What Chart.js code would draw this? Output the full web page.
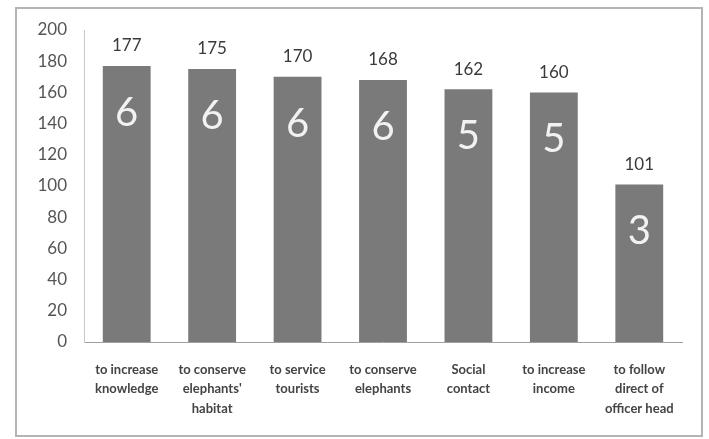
<!DOCTYPE html>
<html>
<head>
<meta charset="utf-8">
<script src="https://cdn.jsdelivr.net/npm/chart.js@4/dist/chart.umd.min.js"></script>
<style>
    html, body { margin: 0; padding: 0; background: #fff; }
    #wrap { position: relative; width: 709px; height: 439px; }
</style>
</head>
<body>
<div id="wrap"><canvas id="reasonChart" width="709" height="439"></canvas></div>
<script>
// Категории (подписи оси X, по строкам)
const categories = [
    ['to increase', 'knowledge'],
    ['to conserve', "elephants'", 'habitat'],
    ['to service', 'tourists'],
    ['to conserve', 'elephants'],
    ['Social', 'contact'],
    ['to increase', 'income'],
    ['to follow', 'direct of', 'officer head']
];

// Сумма баллов
const scores = [177, 175, 170, 168, 162, 160, 101];

// Ранг внутри столбца
const ranks = [6, 6, 6, 6, 5, 5, 3];

// Деления оси Y
const yTicks = [0, 20, 40, 60, 80, 100, 120, 140, 160, 180, 200];

// Рамка вокруг диаграммы
const framePlugin = {
    id: 'frame',
    beforeDraw(chart) {
        const ctx = chart.ctx;
        ctx.save();
        ctx.strokeStyle = '#b4b4b4';
        ctx.lineWidth = 2;
        ctx.strokeRect(16, 8, 686, 428);
        ctx.restore();
    }
};

// Подписи над столбцами и внутри них
const barLabels = {
    id: 'barLabels',
    afterDatasetsDraw(chart) {
        const ctx = chart.ctx;
        const meta = chart.getDatasetMeta(0);
        ctx.save();
        ctx.textAlign = 'center';
        ctx.textBaseline = 'middle';
        meta.data.forEach((bar, i) => {
            ctx.fillStyle = '#3a3a3a';
            ctx.font = '17px Lato';
            ctx.fillText(String(scores[i]), bar.x, bar.y - 20);
            ctx.fillStyle = '#f2f2f2';
            ctx.font = '40px Lato';
            ctx.fillText(String(ranks[i]), bar.x, bar.y + 47);
        });
        ctx.restore();
    }
};

new Chart(document.getElementById('reasonChart'), {
    type: 'bar',
    data: {
        labels: categories,
        datasets: [{
            data: scores,
            backgroundColor: '#7a7a7a',
            borderWidth: 0,
            barPercentage: 0.56,
            categoryPercentage: 1
        }]
    },
    options: {
        responsive: false,
        animation: false,
        layout: {
            padding: { top: 30, right: 27, bottom: 0, left: 0 }
        },
        plugins: {
            legend: { display: false },
            tooltip: { enabled: false }
        },
        scales: {
            x: {
                afterFit(scale) { scale.height = 97; },
                grid: { display: false, drawTicks: false },
                border: { display: true, color: '#a0a0a0', width: 1 },
                ticks: {
                    padding: 18,
                    maxRotation: 0,
                    autoSkip: false,
                    color: '#444',
                    font: { family: 'Lato', size: 13, weight: 'bold', lineHeight: 1.5 }
                }
            },
            y: {
                min: 0,
                max: 200,
                afterFit(scale) { scale.width = 84; },
                afterBuildTicks(scale) {
                    scale.ticks = yTicks.map(v => ({ value: v }));
                },
                grid: { display: false, drawTicks: false },
                border: { display: true, color: '#c8c8c8', width: 1 },
                ticks: {
                    padding: 17,
                    color: '#555',
                    font: { family: 'Lato', size: 17 }
                }
            }
        }
    },
    plugins: [framePlugin, barLabels]
});
</script>
</body>
</html>
